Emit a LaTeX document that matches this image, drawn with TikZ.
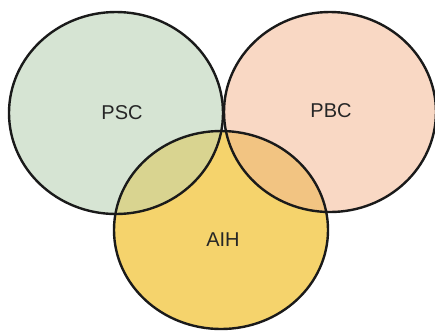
\documentclass[tikz,border=0pt]{standalone}
\usepackage{fontspec}
\setmainfont{Liberation Sans}
\usetikzlibrary{positioning}

\definecolor{pscgreen}{RGB}{214,228,211}
\definecolor{pbcpeach}{RGB}{249,216,196}
\definecolor{aihyellow}{RGB}{245,211,108}
\definecolor{pscaih}{RGB}{217,212,144}
\definecolor{pbcaih}{RGB}{242,196,130}
\definecolor{outline}{RGB}{26,26,26}

\newcommand{\pscshape}{(116,113) ellipse [x radius=107pt, y radius=101pt]}
\newcommand{\pbcshape}{(330,112) ellipse [x radius=106pt, y radius=100pt]}
\newcommand{\aihshape}{(221,230) ellipse [x radius=107pt, y radius=99pt]}

\begin{document}
\begin{tikzpicture}[x=1pt,y=-1pt,
      setline/.style = {line width=2.4pt, draw=outline},
      setlabel/.style = {font=\fontsize{20}{24}\selectfont, text=black!85}]

   \useasboundingbox (0,0) rectangle (435,330);

   % the three sets
   \fill[pscgreen]  \pscshape;
   \fill[pbcpeach]  \pbcshape;
   \fill[aihyellow] \aihshape;

   % overlaps with AIH
   \begin{scope}
      \clip \pscshape;
      \fill[pscaih] \aihshape;
   \end{scope}
   \begin{scope}
      \clip \pbcshape;
      \fill[pbcaih] \aihshape;
   \end{scope}

   % outlines
   \draw[setline] \pscshape;
   \draw[setline] \pbcshape;
   \draw[setline] \aihshape;

   % labels
   \node[setlabel] (psc) at (122,113) {PSC};
   \node[setlabel] (pbc) at (331,111) {PBC};
   \node[setlabel] (aih) at (223,240) {AIH};

\end{tikzpicture}
\end{document}
